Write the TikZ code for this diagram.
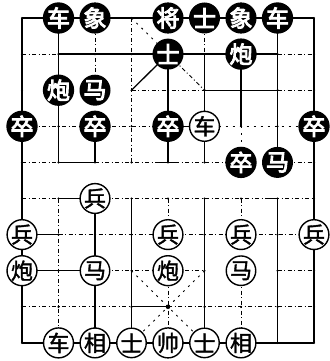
\documentclass[tikz,border=0pt]{standalone}
\usepackage{fontspec}
\newfontfamily\cjk[FakeBold=1.5]{Noto Sans CJK SC}
\newfontfamily\cjkb[FakeBold=4]{Noto Sans CJK SC}
\usetikzlibrary{calc}
\begin{document}
\begin{tikzpicture}[x=1pt,y=-1pt,
  sol/.style={line width=1.3pt},
  dsh/.style={line width=0.9pt,dash pattern=on 4pt off 2.5pt on 1pt off 2.5pt},
  spr/.style={line width=0.9pt,dash pattern=on 2pt off 5pt},
  pdot/.style={circle,fill=black,inner sep=0pt,minimum size=2.4pt},
  bp/.style={circle,fill=black,minimum size=31pt,inner sep=0pt,text=white,font=\cjkb\fontsize{23}{23}\selectfont},
  rp/.style={circle,draw=black,line width=1.4pt,fill=white,minimum size=29.5pt,inner sep=0pt,font=\cjk\fontsize{22}{22}\selectfont}]
\useasboundingbox (0,0) rectangle (329,361);
\foreach \i in {0,...,8}{\foreach \j in {0,...,9}{\coordinate (p\i\j) at ({22+36.5*\i},{18+36.1*\j});}}
% horizontal lines
\draw[sol] (p00) -- (p80);
\draw[dsh] (p01) -- (p11); \draw[sol] (p11) -- (p71); \draw[dsh] (p71) -- (p81);
\draw[dsh] (p32) -- (p52); \draw[sol] (p52) -- (p72); \draw[dsh] (p72) -- (p82);
\draw[dsh] (p03) -- (p43); \draw[sol] (p43) -- (p53); \draw[spr] (p53) -- (p83);
\draw[dsh] (p04) -- (p14); \draw[sol] (p14) -- (p24); \draw[dsh] (p24) -- (p64);
\draw[sol] ($(p44)+(-12,0)$) -- ($(p44)+(10,0)$);
\draw[dsh] (p74) -- (p84);
\draw[dsh] (p05) -- (p15); \draw[sol] (p15) -- (p25); \draw[dsh] (p25) -- (p85);
\draw[sol] ($(p75)+(-10,0)$) -- (p75);
\draw[sol] (p06) -- (p16); \draw[dsh] (p16) -- (p86);
\draw[sol] (p07) -- (p27); \draw[dsh] (p27) -- (p57); \draw[dsh] (p77) -- (p87);
\draw[dsh] (p08) -- (p38); \draw[sol] (p38) -- (p48); \draw[dsh] (p48) -- (p88);
\draw[sol] (p09) -- (p89);
% vertical lines
\draw[sol] (p00) -- (p09);
\draw[sol] (p10) -- (p14); \draw[dsh] (p15) -- (p19);
\draw[dsh] (p20) -- (p22); \draw[sol] (p23) -- (p24); \draw[sol] (p25) -- (p29);
\draw[dsh] (p30) -- (p34); \draw[sol] (p35) -- (p39);
\draw[sol] (p41) -- (p44); \draw[dsh] (p45) -- (p46); \draw[dsh] (p47) -- (p49);
\draw[dsh] (p50) -- (p51); \draw[sol] (p51) -- (p54); \draw[sol] (p55) -- (p59);
\draw[sol] (p61) -- (p63); \draw[spr] (p63) -- (p64); \draw[dsh] (p65) -- (p66); \draw[dsh] (p67) -- (p69);
\draw[sol] (p70) -- (p74); \draw[sol] (p75) -- (p79);
\draw[sol] (p80) -- (p89);
% palaces
\draw[spr] (p30) -- (p41); \draw[sol] (p41) -- (p32); \draw[dsh] (p41) -- (p52);
\draw[spr] (p37) -- (p59); \draw[spr] (p57) -- (p39);
% intersection dots
\foreach \i in {0,...,8}{\foreach \j in {0,...,9}{\node[pdot] at (p\i\j) {};}}
\node[circle,fill=black,inner sep=0pt,minimum size=4.5pt] (pc) at (p48) {};
% black pieces
\node[bp] (b10) at (p10) {车};
\node[bp] (b20) at (p20) {象};
\node[bp] (b40) at (p40) {将};
\node[bp] (b50) at (p50) {士};
\node[bp] (b60) at (p60) {象};
\node[bp] (b70) at (p70) {车};
\node[bp] (b41) at (p41) {士};
\node[bp] (b61) at (p61) {炮};
\node[bp] (b12) at (p12) {炮};
\node[bp] (b22) at (p22) {马};
\node[bp] (b03) at (p03) {卒};
\node[bp] (b23) at (p23) {卒};
\node[bp] (b43) at (p43) {卒};
\node[bp] (b83) at (p83) {卒};
\node[bp] (b64) at (p64) {卒};
\node[bp] (b74) at (p74) {马};
% red pieces
\node[rp] (r53) at (p53) {车};
\node[rp] (r25) at (p25) {兵};
\node[rp] (r06) at (p06) {兵};
\node[rp] (r46) at (p46) {兵};
\node[rp] (r66) at (p66) {兵};
\node[rp] (r86) at (p86) {兵};
\node[rp] (r07) at (p07) {炮};
\node[rp] (r27) at (p27) {马};
\node[rp] (r47) at (p47) {炮};
\node[rp] (r67) at (p67) {马};
\node[rp] (r19) at (p19) {车};
\node[rp] (r29) at (p29) {相};
\node[rp] (r39) at (p39) {士};
\node[rp] (r49) at (p49) {帅};
\node[rp] (r59) at (p59) {士};
\node[rp] (r69) at (p69) {相};
\end{tikzpicture}
\end{document}
